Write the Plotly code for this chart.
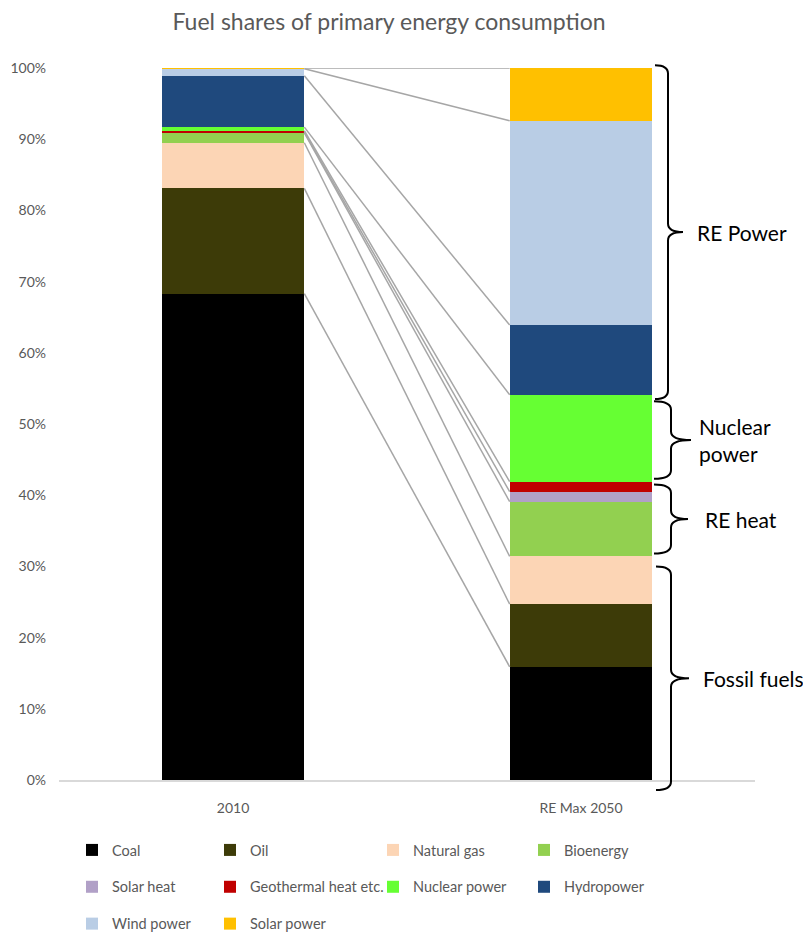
import plotly.graph_objects as go

# ---------------- data ----------------
categories = ["2010", "RE Max 2050"]
fuels = ["Coal", "Oil", "Natural gas", "Bioenergy", "Solar heat",
         "Geothermal heat etc.", "Nuclear power", "Hydropower",
         "Wind power", "Solar power"]
share_2010 = [68.3, 14.8, 6.4, 1.4, 0.1, 0.2, 0.5, 7.2, 1.0, 0.1]
share_2050 = [15.9, 8.8, 6.7, 7.7, 1.4, 1.4, 12.2, 9.8, 28.7, 7.4]
y_ticks = [0, 10, 20, 30, 40, 50, 60, 70, 80, 90, 100]
y_tick_labels = [f"{v}%" for v in y_ticks]
# groups of fuels (start index, end index exclusive) bracketed on the right
group_labels = ["Fossil fuels", "RE heat", "Nuclear<br>power", "RE Power"]
group_start = [0, 3, 6, 7]
group_end = [3, 6, 7, 10]

# ---------------- style ----------------
colors = ["#000000", "#3D3B08", "#FCD5B5", "#92D050", "#B1A0C7",
          "#C00000", "#66FF33", "#1F497D", "#B9CDE5", "#FFC000"]
# legend column of each fuel (4 columns, filled row by row)
legend_col = ["legend", "legend2", "legend3", "legend4",
              "legend", "legend2", "legend3", "legend4",
              "legend", "legend2"]
FONT = "Lato"
GREY = "#595959"
OFF = 8                      # page body margin of the html page
W, H = 811 - OFF, 933 - OFF  # figure size
# plot area in page pixels: x 59..755, y 68..780
ML = 59 - OFF
MT = 68 - OFF
MR = W - (755 - OFF)
MB = H - (780 - OFF)
BAR_W = 0.41
x_pos = [0, 1]

plot_w = W - ML - MR
plot_h = H - MT - MB
def px_to_paper(px):
    return (px - OFF - ML) / plot_w
def py_to_paper(py):
    return (H - MB - (py - OFF)) / plot_h

fig = go.Figure()

# bars
for i, name in enumerate(fuels):
    fig.add_trace(go.Bar(
        x=x_pos, y=[share_2010[i], share_2050[i]], name=name,
        width=BAR_W, marker=dict(color=colors[i], line=dict(width=0)),
        legend=legend_col[i], legendgroup=name,
        hovertemplate=name + ": %{y:.1f}%<extra></extra>",
    ))

# series lines connecting cumulative tops
cum10, cum50 = [], []
s10 = s50 = 0.0
for a, b in zip(share_2010, share_2050):
    s10 += a
    s50 += b
    cum10.append(s10)
    cum50.append(s50)
lx, ly = [], []
for a, b in zip(cum10, cum50):
    lx += [x_pos[0] + BAR_W / 2, x_pos[1] - BAR_W / 2, None]
    ly += [a, b, None]
fig.add_trace(go.Scatter(x=lx, y=ly, mode="lines",
                         line=dict(color="#A6A6A6", width=1.5),
                         showlegend=False, hoverinfo="skip"))

# braces
def brace_path(x0, xs, xt, ytop, ybot, r):
    ym = (ytop + ybot) / 2
    return (f"M {x0},{ytop} Q {xs},{ytop} {xs},{ytop - r} L {xs},{ym + r} "
            f"Q {xs},{ym} {xt},{ym} Q {xs},{ym} {xs},{ym - r} "
            f"L {xs},{ybot + r} Q {xs},{ybot} {x0},{ybot}")

cum50_0 = [0.0] + cum50
top_pad = [-1.4, -0.4, -0.9, 0.4]
bot_pad = [-1.4, 0.4, 0.4, -0.6]
brace_end = [656, 654, 654, 655]
brace_stem = [671, 671, 671, 668]
brace_tip = [689, 688, 691, 683]
label_x = [701, 703, 697, 695]
for g in range(4):
    lo = cum50_0[group_start[g]]
    hi = cum50_0[group_end[g]]
    ytop = (hi + top_pad[g]) / 100
    ybot = (lo + bot_pad[g]) / 100
    fig.add_shape(type="path", xref="paper", yref="paper",
                  path=brace_path(px_to_paper(brace_end[g]), px_to_paper(brace_stem[g]),
                                  px_to_paper(brace_tip[g]), ytop, ybot, 0.012),
                  line=dict(color="black", width=2))
    fig.add_annotation(xref="paper", yref="paper", x=px_to_paper(label_x[g]),
                       y=(ytop + ybot) / 2, text=group_labels[g], showarrow=False,
                       xanchor="left", yanchor="middle", align="left",
                       font=dict(family=FONT, size=21, color="black"))

legend_common = dict(orientation="v", xanchor="left", yanchor="top",
                     traceorder="grouped", tracegroupgap=15,
                     font=dict(family=FONT, size=14.5, color=GREY),
                     bgcolor="rgba(0,0,0,0)", itemclick=False, itemdoubleclick=False)
LEG_TOP = py_to_paper(834)
col_left = [72, 210, 373, 524]

fig.update_layout(
    width=W, height=H,
    margin=dict(l=ML, r=MR, t=MT, b=MB, autoexpand=False),
    paper_bgcolor="white", plot_bgcolor="white",
    barmode="stack", bargap=0,
    title=dict(text="Fuel shares of primary energy consumption",
               x=(389 - OFF) / W, xref="container", xanchor="center",
               y=1 - (22 - OFF) / H, yref="container", yanchor="middle",
               font=dict(family=FONT, size=23, color=GREY)),
    xaxis=dict(range=[-0.5, 1.5], tickvals=x_pos, ticktext=categories,
               showgrid=False, zeroline=False, showline=True,
               linecolor="#D9D9D9", linewidth=1.5, ticks="",
               ticklabelstandoff=14,
               tickfont=dict(family=FONT, size=14, color=GREY), fixedrange=True),
    yaxis=dict(range=[0, 100], tickvals=y_ticks, ticktext=y_tick_labels,
               showgrid=False, zeroline=False, showline=False, ticks="",
               ticklabelstandoff=12,
               tickfont=dict(family=FONT, size=14, color=GREY), fixedrange=True),
    legend=dict(x=px_to_paper(col_left[0]), y=LEG_TOP, **legend_common),
    legend2=dict(x=px_to_paper(col_left[1]), y=LEG_TOP, **legend_common),
    legend3=dict(x=px_to_paper(col_left[2]), y=LEG_TOP, **legend_common),
    legend4=dict(x=px_to_paper(col_left[3]), y=LEG_TOP, **legend_common),
    showlegend=True,
)

fig.write_html("out.html")
